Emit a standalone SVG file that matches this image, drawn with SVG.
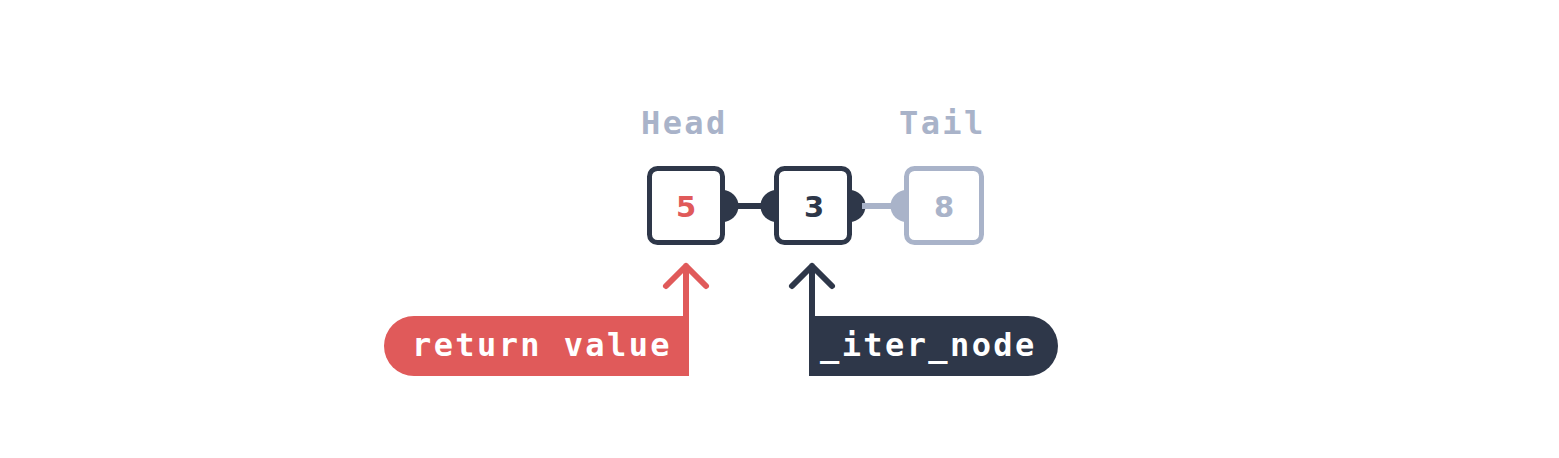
<svg xmlns="http://www.w3.org/2000/svg" width="1559" height="458" viewBox="0 0 1559 458">
<style>
.lbl{font-family:"DejaVu Sans Mono","Liberation Mono",monospace;font-weight:bold;font-size:32px;letter-spacing:2.4px}
.dig{font-family:"DejaVu Sans","Liberation Sans",sans-serif;font-weight:bold;font-size:29px;text-anchor:middle}
.box{fill:#ffffff;stroke-width:5}
</style>
<rect width="1559" height="458" fill="#ffffff"/>
<g id="connectors">
<circle cx="722.5" cy="206" r="16" fill="#2e3749"/>
<circle cx="776.5" cy="206" r="16" fill="#2e3749"/>
<line x1="736" y1="206" x2="764" y2="206" stroke="#2e3749" stroke-width="6"/>
<circle cx="849.5" cy="206" r="16" fill="#2e3749"/>
<circle cx="906.5" cy="206" r="16" fill="#a9b3c9"/>
<line x1="862" y1="206" x2="894" y2="206" stroke="#a9b3c9" stroke-width="6"/>
<g fill="none" stroke-width="6" stroke-linecap="round" stroke-linejoin="round">
<path d="M686 318 V266 M666 286 L686 266 L706 286" stroke="#e05a5a"/>
<path d="M812 318 V266 M792 286 L812 266 L832 286" stroke="#2e3749"/>
</g>
</g>
<g id="head-label"><text class="lbl" x="641" y="134" fill="#a9b3c9">Head</text></g>
<g id="tail-label"><text class="lbl" x="899" y="134" fill="#a9b3c9">Tail</text></g>
<g id="node5">
<rect class="box" x="649.5" y="168.5" width="73" height="74" rx="8" stroke="#2e3749"/>
<text class="dig" x="686" y="217" fill="#e05a5a">5</text>
</g>
<g id="node3">
<rect class="box" x="776.5" y="168.5" width="73" height="74" rx="8" stroke="#2e3749"/>
<text class="dig" x="814" y="217" fill="#2e3749">3</text>
</g>
<g id="node8">
<rect class="box" x="906.5" y="168.5" width="75" height="74" rx="8" stroke="#a9b3c9"/>
<text class="dig" x="944" y="217" fill="#a9b3c9">8</text>
</g>
<g id="return-value">
<path d="M689 316 H414 A30 30 0 0 0 414 376 H689 Z" fill="#e05a5a"/>
<text class="lbl" x="412" y="356" fill="#ffffff">return value</text>
</g>
<g id="iter-node">
<path d="M809 316 H1028 A30 30 0 0 1 1028 376 H809 Z" fill="#2e3749"/>
<text class="lbl" x="820" y="356" fill="#ffffff">_iter_node</text>
</g>
</svg>
